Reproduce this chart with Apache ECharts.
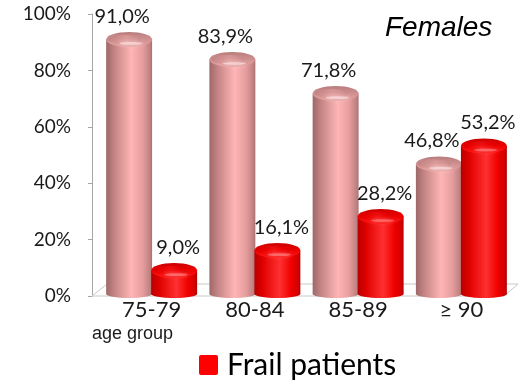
<!DOCTYPE html>
<html>
<head>
<meta charset="utf-8">
<script src="https://cdn.jsdelivr.net/npm/echarts@6/dist/echarts.min.js"></script>
<style>
  html, body { margin: 0; padding: 0; background: #fff; }
  #chart { width: 518px; height: 380px; }
</style>
</head>
<body>
<div id="chart"></div>
<script>
// Age groups and shares (%) of women per group
const ageGroups = ['75-79', '80-84', '85-89', '\u2265 90'];
const nonFrailShare = [91.0, 83.9, 71.8, 46.8];
const frailShare = [9.0, 16.1, 28.2, 53.2];
const yTicks = [0, 20, 40, 60, 80, 100];

const textColor = '#1a1a1a';
const calibriLike = 'Lato, "Noto Sans", sans-serif';

function fmt(v) {
  return v.toFixed(1).replace('.', ',') + '%';
}

function hGrad(stops) {
  return new echarts.graphic.LinearGradient(0, 0, 1, 0,
    stops.map(s => ({ offset: s[0], color: s[1] })));
}
function vGrad(stops) {
  return new echarts.graphic.LinearGradient(0, 0, 0, 1,
    stops.map(s => ({ offset: s[0], color: s[1] })));
}

const palettes = {
  pink: {
    body: [[0, '#9e6868'], [0.18, '#c48484'], [0.55, '#ffb5b5'], [0.8, '#e59c9c'], [0.95, '#c08282'], [1, '#a87070']],
    cap: [[0, '#b87c7c'], [0.5, '#d09090'], [1, '#e6a4a4']],
    shine: '#ffe4e4',
    labelDx: -7
  },
  red: {
    body: [[0, '#b80000'], [0.18, '#e00000'], [0.55, '#ff3030'], [0.8, '#f00000'], [0.95, '#d20000'], [1, '#b00000']],
    cap: [[0, '#cc0000'], [0.5, '#ee0000'], [1, '#ff1a1a']],
    shine: '#ff8a8a',
    labelDx: 4
  }
};

// Draws one cylinder standing on the floor, with its value label above it
function cylinder(offsetFrac, pal) {
  return function (params, api) {
    const cat = api.value(0);
    const val = api.value(1);
    const top = api.coord([cat, val]);
    const base = api.coord([cat, 0]);
    const band = api.size([1, 0])[0];
    const w = band * 0.445;
    const cx = top[0] + band * offsetFrac;
    const rx = w / 2;
    const ry = 7.5;
    const bottomY = base[1] - 2;
    const body = hGrad(pal.body);
    return {
      type: 'group',
      children: [
        { type: 'ellipse', shape: { cx: cx, cy: bottomY, rx: rx, ry: 4 }, style: { fill: body } },
        { type: 'rect', shape: { x: cx - rx, y: top[1], width: w, height: bottomY - top[1] }, style: { fill: body } },
        { type: 'ellipse', shape: { cx: cx, cy: top[1], rx: rx, ry: ry }, style: { fill: vGrad(pal.cap) } },
        { type: 'ellipse', shape: { cx: cx - rx * 0.2, cy: top[1], rx: rx * 0.72, ry: ry * 0.6 },
          style: { fill: hGrad(pal.body), opacity: 0.3 } },
        { type: 'ellipse', shape: { cx: cx + rx * 0.08, cy: top[1] + ry * 0.55, rx: rx * 0.5, ry: 1.4 },
          style: { fill: pal.shine, opacity: 0.6, shadowBlur: 4, shadowColor: pal.shine } },
        { type: 'text', x: cx + pal.labelDx, y: top[1] - 23,
          style: { text: fmt(val), fill: textColor, font: '20px ' + calibriLike, align: 'center', verticalAlign: 'middle' } }
      ]
    };
  };
}

const chart = echarts.init(document.getElementById('chart'), null, { renderer: 'canvas' });

chart.setOption({
  animation: false,
  backgroundColor: '#ffffff',
  title: {
    text: 'Females',
    left: 380,
    top: 9,
    textStyle: { fontFamily: '"Liberation Sans", Arial, sans-serif', fontStyle: 'italic', fontWeight: 'normal', fontSize: 28, color: '#000' }
  },
  legend: {
    data: ['Frail patients'],
    left: 194,
    top: 345,
    icon: 'path://M2,0 L17,0 Q19,0 19,2 L19,18 Q19,20 17,20 L2,20 Q0,20 0,18 L0,2 Q0,0 2,0 Z',
    itemWidth: 19,
    itemHeight: 20,
    itemGap: 12,
    textStyle: { fontFamily: calibriLike, fontSize: 30, color: '#000', padding: [0, 0, 0, 4] }
  },
  graphic: [{
    type: 'text',
    left: 92,
    top: 325,
    style: { text: 'age group', fill: textColor, font: '18px "Liberation Sans", Arial, sans-serif' }
  }],
  grid: { left: 100, right: 5, top: 14, bottom: 84 },
  xAxis: {
    type: 'category',
    data: ageGroups,
    axisLine: { show: false },
    axisTick: { show: false },
    axisLabel: { fontFamily: calibriLike, fontSize: 22, color: textColor, margin: 3 }
  },
  yAxis: {
    type: 'value',
    min: yTicks[0],
    max: yTicks[yTicks.length - 1],
    interval: 20,
    offset: 8,
    axisLine: { show: true, lineStyle: { color: '#a6a6a6' } },
    axisTick: { show: true, length: 4, lineStyle: { color: '#a6a6a6' } },
    splitLine: { show: false },
    axisLabel: { formatter: '{value}%', fontFamily: calibriLike, fontSize: 19, color: textColor, margin: 21 }
  },
  series: [
    {
      // floor of the plot area
      type: 'custom',
      name: 'floor',
      silent: true,
      z: 1,
      data: [[0, 0]],
      renderItem: function (params, api) {
        const cs = params.coordSys;
        const fy = cs.y + cs.height;
        return {
          type: 'polygon',
          shape: { points: [[cs.x - 8, fy], [cs.x + 7, fy - 12], [cs.x + cs.width + 5, fy - 12], [cs.x + cs.width - 9, fy]] },
          style: { fill: '#ffffff', stroke: '#c8c8c8', lineWidth: 1 }
        };
      }
    },
    {
      type: 'custom',
      name: 'Non-frail patients',
      z: 2,
      itemStyle: { color: '#e8a2a2' },
      data: nonFrailShare.map((v, i) => [i, v]),
      encode: { x: 0, y: 1 },
      renderItem: cylinder(-0.218, palettes.pink)
    },
    {
      type: 'custom',
      name: 'Frail patients',
      z: 3,
      itemStyle: { color: '#ff0000' },
      data: frailShare.map((v, i) => [i, v]),
      encode: { x: 0, y: 1 },
      renderItem: cylinder(0.218, palettes.red)
    }
  ]
});
</script>
</body>
</html>
